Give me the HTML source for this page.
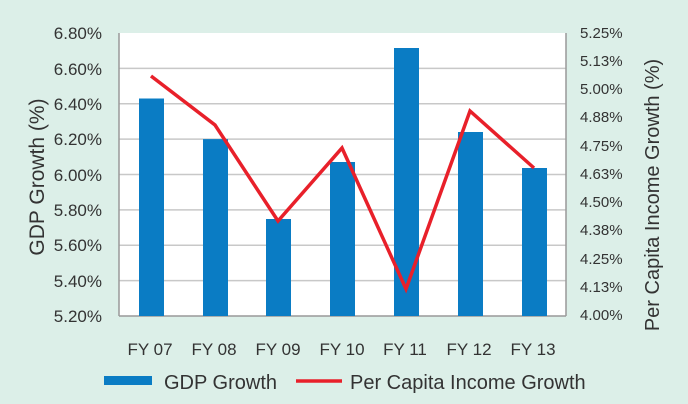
<!DOCTYPE html><html><head><style>body{margin:0;background:#dcefe8}svg{display:block}text{font-family:"Liberation Sans",sans-serif;fill:#333}</style></head><body>
<svg width="688" height="404" viewBox="0 0 688 404">
<rect width="688" height="404" fill="#dcefe8"/>
<rect x="119" y="33" width="447" height="283" fill="#fff"/>
<g stroke="#c8c8c8" stroke-width="1.5">
<line x1="119" y1="68.4" x2="566" y2="68.4"/><line x1="119" y1="103.8" x2="566" y2="103.8"/><line x1="119" y1="139.1" x2="566" y2="139.1"/><line x1="119" y1="174.5" x2="566" y2="174.5"/><line x1="119" y1="209.9" x2="566" y2="209.9"/><line x1="119" y1="245.3" x2="566" y2="245.3"/><line x1="119" y1="280.6" x2="566" y2="280.6"/>
</g>
<g stroke="#999" stroke-width="1.5" fill="none"><line x1="119" y1="33" x2="119" y2="316"/><line x1="566" y1="33" x2="566" y2="316"/><line x1="119" y1="316" x2="566" y2="316"/></g>
<g fill="#0a7cc4">
<rect x="139" y="98.5" width="25" height="217.5"/>
<rect x="203" y="139.1" width="25" height="176.9"/>
<rect x="266" y="219" width="25" height="97"/>
<rect x="330" y="162" width="25" height="154"/>
<rect x="394" y="48" width="25" height="268"/>
<rect x="458" y="132" width="25" height="184"/>
<rect x="522" y="168" width="25" height="148"/>
</g>
<polyline points="151,76 215,125 278,221 342,148 406,289 470,111 534,168" fill="none" stroke="#e8202a" stroke-width="3.5" stroke-linejoin="miter"/>
<g font-size="17" text-anchor="end">
<text x="102" y="39">6.80%</text><text x="102" y="75">6.60%</text><text x="102" y="110">6.40%</text><text x="102" y="145">6.20%</text><text x="102" y="181">6.00%</text><text x="102" y="216">5.80%</text><text x="102" y="251">5.60%</text><text x="102" y="287">5.40%</text><text x="102" y="322">5.20%</text>
</g>
<g font-size="15">
<text x="580" y="38">5.25%</text><text x="580" y="66">5.13%</text><text x="580" y="94">5.00%</text><text x="580" y="122">4.88%</text><text x="580" y="151">4.75%</text><text x="580" y="179">4.63%</text><text x="580" y="207">4.50%</text><text x="580" y="235">4.38%</text><text x="580" y="264">4.25%</text><text x="580" y="292">4.13%</text><text x="580" y="320">4.00%</text>
</g>
<g font-size="17" text-anchor="middle">
<text x="150" y="355">FY 07</text><text x="214" y="355">FY 08</text><text x="278" y="355">FY 09</text><text x="342" y="355">FY 10</text><text x="405" y="355">FY 11</text><text x="469" y="355">FY 12</text><text x="533" y="355">FY 13</text>
</g>
<text transform="translate(44,177) rotate(-90)" font-size="21" text-anchor="middle">GDP Growth (%)</text>
<text transform="translate(659,195) rotate(-90)" font-size="20" text-anchor="middle">Per Capita Income Growth (%)</text>
<rect x="104" y="376" width="48" height="9" fill="#0a7cc4"/>
<text x="164" y="389" font-size="20">GDP Growth</text>
<line x1="296" y1="381" x2="342" y2="381" stroke="#e8202a" stroke-width="3.5"/>
<text x="350" y="389" font-size="20">Per Capita Income Growth</text>
</svg></body></html>
